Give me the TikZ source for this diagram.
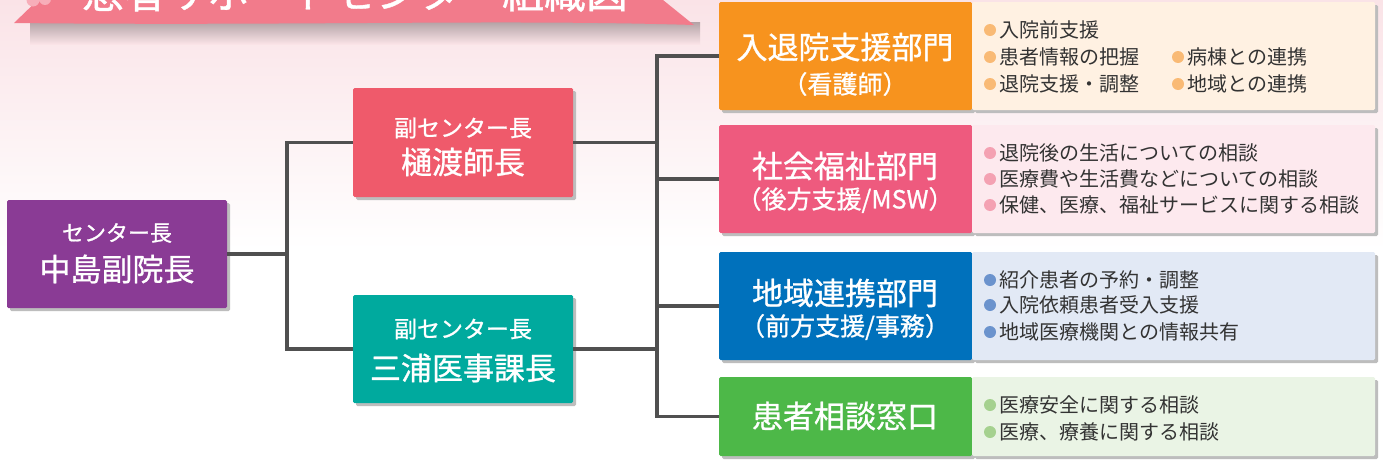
\documentclass[tikz,border=0pt]{standalone}
\usepackage{fontspec}
\setmainfont{Noto Sans CJK JP}
\newfontfamily\jpmed[FakeBold=0.9]{Noto Sans CJK JP}
\usetikzlibrary{shadows}
\definecolor{bgtop}{HTML}{FAE3E7}
\definecolor{ribbon}{HTML}{F27B8B}
\definecolor{ribdot}{HTML}{F7AEB9}
\definecolor{lineC}{HTML}{505050}
\definecolor{shadC}{HTML}{BDBDBD}
\definecolor{purp}{HTML}{8A3B95}
\definecolor{redV}{HTML}{EF5A6B}
\definecolor{tealV}{HTML}{00AA9E}
\definecolor{oranD}{HTML}{F7931E}
\definecolor{pinkD}{HTML}{EE5A7E}
\definecolor{blueD}{HTML}{0071BC}
\definecolor{greenD}{HTML}{4DB848}
\definecolor{oranP}{HTML}{FFF1E2}
\definecolor{pinkP}{HTML}{FDE9EE}
\definecolor{blueP}{HTML}{E2E9F5}
\definecolor{greenP}{HTML}{EAF4E5}
\definecolor{oranB}{HTML}{F9BA75}
\definecolor{pinkB}{HTML}{F4A1B2}
\definecolor{blueB}{HTML}{6B93CD}
\definecolor{greenB}{HTML}{A5D18F}
\definecolor{textC}{HTML}{333333}
\begin{document}
\begin{tikzpicture}[x=1pt,y=-1pt,
  conn/.style={draw=lineC, line width=3.6pt, line join=miter},
  cbox/.style={fill=#1, inner sep=0pt, rounded corners=1.5pt,
    drop shadow={shadow xshift=3pt, shadow yshift=-3pt, fill=shadC, opacity=1}},
  lbl/.style={text=white, inner sep=0pt, font=\jpmed\fontsize{#1}{#1}\selectfont},
  item/.style={text=textC, anchor=west, inner sep=0pt, font=\fontsize{20}{20}\selectfont},
  bul/.style={circle, fill=#1, inner sep=0pt, minimum size=12pt}
]
\useasboundingbox (0,0) rectangle (1383,461);
\clip (0,0) rectangle (1383,461);
% background
\fill[white] (0,0) rectangle (1383,461);
\shade[top color=bgtop, bottom color=white] (0,0) rectangle (1383,250);
% title ribbon
\shade[top color=black!28!bgtop, bottom color=bgtop] (30,22) rectangle (700,44);
\fill[ribbon] (14,23) -- (42,-4) -- (658,-4) -- (694,25)
  .. controls (500,19) and (300,26) .. (14,23) -- cycle;
\fill[ribdot] (33,0) circle (6.5pt) (45,-1) circle (6pt);
\node[lbl=42] (title) at (355,-8) {患者サポートセンター組織図};
% chief
\node[cbox=purp, minimum width=220pt, minimum height=108pt] (chief) at (117,254) {};
\node[lbl=22] (chiefA) at (117,233) {センター長};
\node[lbl=31] (chiefB) at (117,269) {中島副院長};
% vice
\node[cbox=redV, minimum width=220pt, minimum height=109pt] (v1) at (463,142.5) {};
\node[lbl=23] (v1A) at (463,128) {副センター長};
\node[lbl=31] (v1B) at (463,162) {樋渡師長};
\node[cbox=tealV, minimum width=220pt, minimum height=108pt] (v2) at (463,349) {};
\node[lbl=23] (v2A) at (463,329) {副センター長};
\node[lbl=31] (v2B) at (463,368) {三浦医事課長};
% departments
\node[cbox=oranD, minimum width=253pt, minimum height=108pt] (dA) at (845.5,56) {};
\node[cbox=oranP, minimum width=403pt, minimum height=108pt] (pA) at (1173.5,56) {};
\node[cbox=pinkD, minimum width=253pt, minimum height=108pt] (dB) at (845.5,179) {};
\node[cbox=pinkP, minimum width=403pt, minimum height=108pt] (pB) at (1173.5,179) {};
\node[cbox=blueD, minimum width=253pt, minimum height=108pt] (dC) at (845.5,306) {};
\node[cbox=blueP, minimum width=403pt, minimum height=108pt] (pC) at (1173.5,306) {};
\node[cbox=greenD, minimum width=253pt, minimum height=79pt] (dD) at (845.5,416.5) {};
\node[cbox=greenP, minimum width=403pt, minimum height=79pt] (pD) at (1173.5,416.5) {};
\node[lbl=31] (dA1) at (845,47) {入退院支援部門};
\node[lbl=25] (dA2) at (845,84) {（看護師）};
\node[lbl=31] (dB1) at (845,166) {社会福祉部門};
\node[lbl=25] (dB2) at (845,200) {（後方支援/MSW）};
\node[lbl=31] (dC1) at (845,293) {地域連携部門};
\node[lbl=25] (dC2) at (845,327) {（前方支援/事務）};
\node[lbl=31] (dD1) at (845,416) {患者相談窓口};
% panel items
\node[bul=oranB] (a1b) at (990,30) {}; \node[item] (a1) at (999,30) {入院前支援};
\node[bul=oranB] (a2b) at (990,57) {}; \node[item] (a2) at (999,57) {患者情報の把握};
\node[bul=oranB] (a3b) at (990,84) {}; \node[item] (a3) at (999,84) {退院支援・調整};
\node[bul=oranB] (a4b) at (1178,57) {}; \node[item] (a4) at (1187,57) {病棟との連携};
\node[bul=oranB] (a5b) at (1178,84) {}; \node[item] (a5) at (1187,84) {地域との連携};
\node[bul=pinkB] (b1b) at (990,153) {}; \node[item] (b1i) at (999,153) {退院後の生活についての相談};
\node[bul=pinkB] (b2b) at (990,179) {}; \node[item] (b2i) at (999,179) {医療費や生活費などについての相談};
\node[bul=pinkB] (b3b) at (990,205) {}; \node[item] (b3i) at (999,205) {保健、医療、福祉サービスに関する相談};
\node[bul=blueB] (c1b) at (990,280) {}; \node[item] (c1i) at (999,280) {紹介患者の予約・調整};
\node[bul=blueB] (c2b) at (990,305) {}; \node[item] (c2i) at (999,305) {入院依頼患者受入支援};
\node[bul=blueB] (c3b) at (990,332) {}; \node[item] (c3i) at (999,332) {地域医療機関との情報共有};
\node[bul=greenB] (e1b) at (990,405) {}; \node[item] (e1i) at (999,405) {医療安全に関する相談};
\node[bul=greenB] (e2b) at (990,432) {}; \node[item] (e2i) at (999,432) {医療、療養に関する相談};
% connectors
\coordinate (bus1) at (287,0);
\coordinate (bus2) at (657,0);
\draw[conn] (chief.east) -- (chief.east -| bus1);
\draw[conn] (v1.west) -| (bus1 |- v2.west) -- (v2.west);
\draw[conn] (v1.east) -- (v1.east -| bus2);
\draw[conn] (v2.east) -- (v2.east -| bus2);
\draw[conn] (dA.west) -| (bus2 |- dD.west) -- (dD.west);
\draw[conn] (dB.west) -- (dB.west -| bus2);
\draw[conn] (dC.west) -- (dC.west -| bus2);
\end{tikzpicture}
\end{document}
